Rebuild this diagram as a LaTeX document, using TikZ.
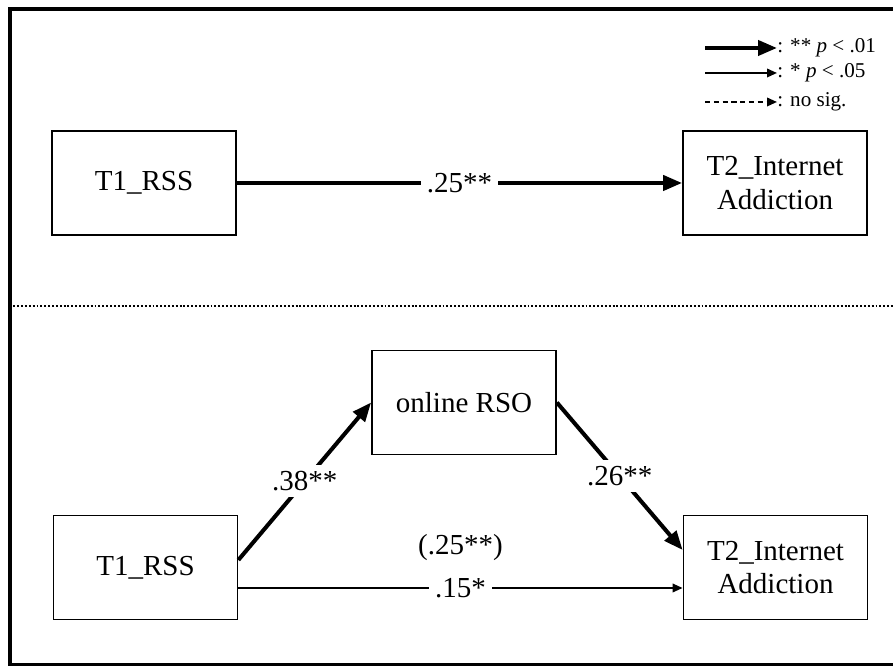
\documentclass[tikz,border=0pt]{standalone}
\usepackage{fontspec}
\setmainfont{Liberation Serif}
\usepackage{tikz}
\usetikzlibrary{%
  arrows.meta,%
  calc%
}

\tikzset{
  box/.style={draw, line width=1pt, minimum width=3.68cm, minimum height=2.08cm,
    align=center, inner sep=2pt},
  sigb/.style={line width=2.3pt, -{Triangle[length=0.38cm,width=0.3cm]}},
  siga/.style={line width=1.1pt, -{Triangle[length=0.2cm,width=0.17cm]}},
  nosig/.style={line width=1.1pt, dash pattern=on 3pt off 2pt, -{Triangle[length=0.2cm,width=0.17cm]}},
  coef/.style={fill=white, inner sep=0.12cm},
  key/.style={anchor=west, inner sep=0pt, font=\fontsize{12}{14}\selectfont}
}

\begin{document}
\begin{tikzpicture}[font=\fontsize{16.5}{19}\selectfont]
\useasboundingbox (0,0) rectangle (17.86,13.32);

% frame and divider
\draw[line width=0.08cm] (18,13.14) -- (0.19,13.14) -- (0.19,0.02) -- (18,0.02);
\draw[line width=1.1pt, dash pattern=on 1.1pt off 1.1pt] (0.19,7.2) -- (17.86,7.2);

% legend
\node[key] (l1) at (15.54,12.36) {: ** \textit{p} < .01};
\node[key] (l2) at (15.54,11.86) {: * \textit{p} < .05};
\node[key] (l3) at (15.54,11.28) {: no sig.};
\coordinate (k1) at (14.1,12.36);
\coordinate (k2) at (14.1,11.86);
\coordinate (k3) at (14.1,11.28);
\draw[sigb] (k1) -- (l1.west);
\draw[siga] (k2) -- (l2.west);
\draw[nosig] (k3) -- (l3.west);

% total effect
\node[box] (t1a) at (2.88,9.66) {T1\_RSS};
\node[box] (t2a) at (15.5,9.66) {T2\_Internet\\Addiction};
\draw[sigb] (t1a.east) -- node[coef] {.25**} (t2a.west);

% mediation model
\node[box] (t1b) at (2.91,1.97) {T1\_RSS};
\node[box] (rso) at (9.28,5.27) {online RSO};
\node[box] (t2b) at (15.51,1.97) {T2\_Internet\\Addiction};

\draw[sigb] ([yshift=0.15cm]t1b.east) -- node[coef] {.38**} (rso.west);
\draw[sigb] (rso.east) -- node[coef] {.26**} ([yshift=0.35cm]t2b.west);
\draw[siga] ([yshift=-0.41cm]t1b.east) -- node[coef] {.15*}
  node[yshift=0.8cm] {(.25**)} ([yshift=-0.41cm]t2b.west);
\end{tikzpicture}
\end{document}
